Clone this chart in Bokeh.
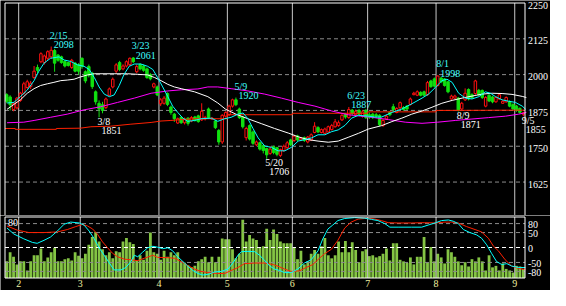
from bokeh.plotting import figure
from bokeh.models import Range1d, LabelSet, ColumnDataSource
from bokeh.layouts import column
from bokeh.embed import file_html
from bokeh.resources import INLINE

# ---------------- data ----------------
opens = [1930,1922,1878,1884,1910,1935,1955,1958,1990,2025,2045,2042,2057,2062,2084,2068,2062,2046,2042,2025,
         2040,2035,2057,2010,2028,2005,1940,1900,1895,1885,1928,1957,2012,2042,2020,2030,2035,2058,2010,2035,
         2030,2020,2000,1957,1957,1898,1900,1934,1887,1862,1831,1850,1832,1848,1838,1852,1856,1842,1845,1880,
         1845,1838,1805,1765,1855,1860,1890,1912,1880,1852,1780,1822,1800,1755,1762,1752,1742,1725,1748,1745,
         1718,1735,1745,1772,1770,1786,1772,1780,1765,1772,1798,1815,1798,1795,1800,1808,1818,1822,1842,1862,
         1850,1876,1860,1875,1855,1875,1860,1862,1860,1858,1822,1845,1868,1888,1868,1884,1885,1890,1896,1930,
         1928,1938,1940,1930,1978,1985,1962,1988,1985,1975,1915,1918,1918,1880,1912,1948,1930,1934,1945,1945,
         1890,1928,1922,1905,1915,1900,1905,1905,1895,1890,1882,1862]
closes = [1907,1895,1900,1918,1935,1968,1975,1970,2012,2015,2073,2065,2080,2085,2040,2050,2042,2030,2032,2050,
          2012,2012,2028,1978,1998,1958,1905,1880,1875,1915,1950,1984,2034,2018,2030,2045,2057,2045,2028,2020,
          2015,1990,1985,1968,1929,1912,1918,1896,1868,1846,1846,1832,1845,1830,1850,1840,1836,1872,1850,1850,
          1848,1815,1765,1858,1868,1890,1912,1895,1850,1818,1812,1775,1760,1765,1740,1735,1720,1740,1728,1722,
          1738,1750,1762,1755,1785,1772,1778,1770,1782,1790,1820,1800,1808,1810,1818,1822,1835,1832,1858,1852,
          1878,1864,1872,1862,1870,1850,1852,1850,1855,1825,1840,1855,1860,1878,1882,1902,1878,1880,1915,1935,
          1940,1928,1928,1972,1958,1960,1995,1975,1962,1940,1925,1925,1875,1900,1935,1915,1920,1978,1930,1920,
          1920,1908,1905,1920,1930,1907,1920,1890,1880,1875,1868,1866]
highs = [1935,1928,1905,1922,1940,1975,1982,1978,2030,2035,2078,2070,2085,2098,2090,2072,2066,2050,2045,2055,
         2044,2040,2060,2015,2035,2010,1945,1910,1905,1920,1955,1990,2040,2048,2036,2050,2060,2061,2035,2040,
         2035,2025,2005,1972,1962,1918,1925,1938,1892,1866,1850,1855,1850,1852,1855,1856,1860,1900,1856,1885,
         1852,1842,1810,1862,1872,1895,1916,1920,1885,1856,1818,1826,1805,1770,1766,1756,1745,1750,1752,1748,
         1742,1756,1768,1776,1790,1790,1782,1784,1786,1795,1834,1820,1812,1815,1822,1828,1845,1840,1865,1866,
         1887,1880,1878,1880,1876,1880,1868,1866,1866,1862,1845,1860,1872,1898,1886,1906,1890,1894,1920,1940,
         1945,1942,1944,1978,1982,1990,1998,1992,1988,1978,1930,1930,1922,1905,1952,1952,1935,1982,1950,1948,
         1925,1932,1926,1925,1935,1910,1924,1910,1900,1894,1886,1870]
lows = [1900,1875,1872,1878,1905,1930,1950,1950,1985,2005,2040,2035,2050,2055,2010,2045,2038,2025,2028,2020,
        2008,2000,2020,1970,1990,1950,1895,1851,1865,1880,1925,1952,2005,2012,2015,2025,2030,2040,2005,2015,
        2010,1985,1980,1952,1925,1890,1895,1890,1860,1835,1828,1828,1826,1822,1834,1836,1832,1838,1840,1845,
        1842,1810,1755,1758,1850,1855,1885,1890,1845,1812,1770,1770,1755,1750,1735,1725,1706,1720,1722,1715,
        1712,1730,1740,1750,1765,1768,1768,1765,1760,1768,1795,1796,1795,1792,1797,1805,1815,1818,1838,1846,
        1846,1858,1855,1858,1850,1845,1845,1845,1848,1820,1818,1842,1855,1872,1865,1880,1874,1876,1892,1928,
        1925,1924,1925,1926,1954,1955,1958,1970,1958,1935,1912,1914,1871,1876,1908,1910,1915,1930,1925,1915,
        1886,1904,1900,1902,1912,1898,1902,1886,1876,1870,1864,1855]
volumes = [23.6,36.5,30.1,19.3,23.6,23.6,10.7,23.6,32.2,32.2,41.7,23.6,29.2,36.5,43,23.6,23.6,26.7,27.9,24.9,
           36.5,31.4,27.9,34.4,47.3,58,65.4,51.6,40.8,32.2,36.5,27.9,37.8,36.5,51.6,56.8,50.7,48.2,24.9,32.2,
           25.8,38.7,64.5,36.5,34.4,25.8,38.7,30.1,36.5,32.2,36.5,23.6,21.5,18.1,15.1,17.2,23.6,26.7,30.1,22.4,
           30.1,22.4,30.1,55.9,55.1,55.1,40.8,27.9,34.4,82.6,51.6,61,55.9,53.8,43.9,45.1,69.7,53.8,68.8,62.3,
           51.6,49.4,49.4,49.4,43,26.7,38.7,19.3,23.6,34.4,39.6,34.4,45.1,56.8,32.2,27.9,32.2,51.6,36.5,52.5,
           36.5,50.7,39.6,22.4,37.8,40.8,31,32.2,29.2,31,34.4,41.7,24.9,49.4,49.4,25.8,23.6,21.5,29.2,19.3,
           30.1,30.1,58,21.5,43.9,23.6,34.4,29.2,20.6,40.8,36.5,30.1,23.6,18.1,22.4,16.3,26.7,23.6,29.2,23.6,
           10.7,32.2,15.1,17.2,10.7,20.6,12.9,10.7,7.7,17.2,16.3,12.9]

# moving averages: (candle index, price)
ma_short = [(0.1,1901),(2.1,1903),(4.0,1923),(6.0,1946),(8.0,1979),(9.4,2012),(10.9,2040),(12.8,2057),(15.3,2062),
            (16.8,2051),(18.7,2046),(20.7,2034),(22.6,2029),(24.1,2018),(25.6,1990),(27.0,1957),(28.5,1932),(30.0,1923),
            (31.4,1929),(32.9,1962),(34.3,2001),(35.8,2029),(37.3,2037),(39.2,2037),(41.2,2029),(42.7,2018),(44.1,1990),
            (45.6,1957),(47.1,1923),(48.5,1890),(50.0,1868),(51.5,1848),(52.9,1837),(54.9,1840),(56.8,1846),(59.8,1848),
            (61.7,1837),(63.7,1846),(65.6,1851),(67.6,1862),(69.1,1866),(70.5,1846),(72.0,1812),(73.5,1779),(75.4,1751),
            (77.4,1746),(79.3,1734),(81.3,1734),(83.2,1746),(85.2,1768),(87.1,1773),(89.1,1779),(91.0,1790),(93.0,1790),
            (95.0,1801),(96.9,1807),(98.9,1823),(100.8,1848),(102.8,1858),(105.7,1855),(107.5,1852),(109.6,1852),
            (112.6,1868),(115.5,1880),(118.4,1898),(121.4,1918),(123.3,1932),(125.3,1955),(127.2,1979),(128.7,1984),
            (130.2,1973),(132.1,1935),(134.1,1918),(136.0,1915),(138.0,1923),(139.9,1940),(141.4,1935),(142.9,1923),
            (144.8,1912),(146.8,1907),(148.7,1903),(150.7,1890),(151.7,1879)]
ma_mid = [(0.1,1879),(2.1,1896),(4.0,1912),(6.0,1935),(8.0,1951),(9.9,1962),(11.9,1968),(13.8,1973),(15.8,1979),
          (17.7,1981),(19.7,1984),(21.6,1992),(23.6,1999),(25.6,2003),(31.4,2003),(35.3,2003),(38.3,2001),(41.2,1999),
          (43.2,1990),(45.1,1979),(47.1,1966),(49.0,1957),(51.0,1951),(54.9,1940),(58.8,1923),(61.7,1901),(64.0,1879),
          (67.0,1862),(70.5,1846),(74.4,1829),(78.3,1812),(82.3,1796),(85.2,1783),(88.1,1773),(91.0,1768),(94.0,1764),
          (96.9,1768),(99.8,1781),(102.8,1795),(105.7,1810),(109.6,1822),(112.6,1836),(115.5,1848),(118.4,1862),
          (121.4,1873),(124.3,1886),(127.2,1900),(130.2,1910),(133.1,1918),(136.0,1925),(139.0,1932),(141.9,1935),
          (144.8,1934),(147.7,1931),(150.7,1924),(151.9,1920)]
ma_long = [(0.1,1832),(5.0,1834),(8.0,1840),(12.8,1851),(17.7,1862),(22.6,1877),(27.5,1888),(32.4,1903),(37.3,1918),
           (42.2,1935),(47.1,1943),(51.0,1947),(55.9,1950),(58.8,1957),(61.7,1957),(65.6,1951),(70.5,1943),(75.4,1932),
           (80.3,1918),(85.2,1903),(90.1,1890),(95.0,1873),(99.8,1860),(103.5,1855),(106.7,1851),(111.6,1843),
           (116.5,1834),(121.4,1830),(126.0,1834),(131.1,1840),(136.0,1845),(140.9,1850),(145.8,1855),(149.7,1862),
           (151.9,1868)]
ma_trend = [(-0.5,1812),(2.5,1812),(2.5,1809),(14.5,1809),(14.5,1812),(21.5,1813),(24.6,1818),(30.4,1820),
            (36.3,1827),(42.2,1833),(45.1,1838),(48.0,1840),(51.0,1843),(55.0,1846),(64.5,1846),(64.5,1860),
            (83.5,1860),(83.5,1865),(105.5,1865),(105.5,1870),(125.5,1870),(125.5,1875),(151.5,1876)]

# oscillators in the lower pane: (candle index, value)
osc_fast = [(0.1,65),(2.1,45),(5.0,29),(7.5,17),(8.9,14),(10.9,24),(12.8,35),(14.8,55),(16.8,78),(18.7,85),(21.2,82),
            (22.6,75),(24.1,55),(25.6,29),(27.0,-1),(28.5,-26),(30.0,-52),(31.4,-75),(33.4,-75),(34.8,-67),(36.3,-47),
            (37.3,-26),(38.3,-31),(39.7,-16),(41.2,-1),(42.7,4),(44.1,1),(45.6,-4),(47.1,-1),(48.5,-11),(50.0,-31),
            (51.5,-47),(52.9,-62),(54.4,-77),(55.9,-87),(57.3,-92),(58.8,-90),(60.7,-82),(62.7,-80),(64.7,-72),
            (66.1,-52),(67.6,-26),(68.6,-14),(70.5,-13),(72.5,-14),(73.9,-26),(75.4,-43),(76.9,-62),(78.3,-72),
            (79.8,-77),(81.2,-84),(83.1,-84),(85.1,-72),(87.0,-52),(89.0,-41),(91.0,-11),(92.4,29),(93.9,62),(95.3,75),
            (96.8,90),(98.8,97),(101.7,100),(104.6,98),(106.6,94),(108.5,90),(110.5,80),(112.0,68),(114.4,68),
            (118.3,68),(121.3,68),(123.2,75),(125.2,82),(127.1,90),(129.1,92),(130.5,88),(132.0,80),(133.5,60),
            (135.4,50),(137.4,42),(138.8,31),(140.3,9),(141.8,-21),(143.2,-47),(144.7,-57),(146.2,-54),(147.6,-62),
            (149.6,-67),(151.6,-67)]
osc_slow = [(0.1,72),(3.1,58),(6.5,50),(10.9,50),(14.8,52),(17.7,60),(20.2,70),(22.1,77),(23.6,72),(25.1,62),
            (26.5,45),(28.0,19),(29.5,-1),(30.9,-19),(32.4,-31),(34.4,-39),(36.3,-41),(38.3,-44),(40.2,-36),(42.7,-26),
            (44.1,-33),(47.1,-34),(49.0,-36),(51.0,-47),(52.9,-60),(54.9,-72),(56.8,-80),(58.8,-84),(61.7,-87),
            (63.7,-87),(65.6,-77),(67.6,-67),(69.5,-54),(72.5,-52),(75.4,-52),(77.9,-57),(79.8,-65),(81.2,-72),
            (83.1,-80),(85.6,-78),(87.5,-67),(89.5,-57),(91.4,-36),(92.9,-21),(94.9,-6),(96.8,24),(98.8,65),
            (100.7,85),(102.7,95),(105.6,98),(107.6,95),(109.5,90),(111.5,83),(114.4,82),(118.3,82),(122.2,83),
            (125.2,82),(128.1,85),(130.0,85),(132.0,82),(134.4,70),(136.9,60),(138.8,52),(140.8,31),(142.3,4),
            (143.7,-11),(145.7,-41),(147.6,-62),(149.6,-70),(151.6,-74)]

ann_idx = [13, 27, 37, 67, 76, 100, 126, 132, 151]
ann_date = ["2/15", "3/8", "3/23", "5/9", "5/20", "6/23", "8/1", "8/9", "9/5"]
ann_value = [2098, 1851, 2061, 1920, 1706, 1887, 1998, 1871, 1855]
ann_kind = ["high", "low", "high", "high", "low", "high", "high", "low", "low"]

month_labels = ["2", "3", "4", "5", "6", "7", "8", "9"]
month_start = [4, 22, 45, 65, 84, 106, 126, 149]
price_ticks = [1625, 1750, 1875, 2000, 2125, 2250]
price_min = 1503
osc_ticks = [80, 50, 0, -50, -80]
osc_lim = 102
vol_max = 86.5
vol_label = 80

# ---------------- layout / styling ----------------
FONT = "DejaVu Sans Mono"
FS = "10px"
UP = "#ff1010"
DOWN = "#10e010"
CYAN = "#00ffff"
GRID = "#8c8c8c"
VLINE = "#c8c8c8"
W = 550
H1, H2 = 215, 75
N = len(opens)
xs = list(range(N))
x_lo, x_hi = -0.5, N - 0.5          # candle area in data units
month_line = [m - 0.5 for m in month_start]
price_max = max(price_ticks)


def rng(v_a, px_a, v_b, px_b, size):
    """Range whose value v_a sits at pixel px_a and v_b at px_b (pixels from top/left)."""
    k = (v_b - v_a) / (px_b - px_a)
    return v_a + (0 - px_a) * k, v_a + (size - px_a) * k


xa, xb = rng(x_lo, 4.5, x_hi, 524.5, W)
xr = Range1d(xa, xb)

# ----- main pane -----
ya, yb = rng(price_max, 2.5, price_min, 216.5, H1)
p = figure(width=W, height=H1, x_range=xr, y_range=Range1d(yb, ya),
           x_axis_location=None, y_axis_location=None,
           output_backend="svg", toolbar_location=None,
           min_border=0, background_fill_color="black", border_fill_color="black",
           outline_line_color=None)
p.xgrid.visible = False
p.ygrid.visible = False

inner = [t for t in price_ticks if t != price_max]
p.segment(x0=[x_lo] * len(inner), x1=[x_hi] * len(inner), y0=inner, y1=inner,
          line_color=GRID, line_dash="4 3", line_width=1)
p.segment(x0=month_line, x1=month_line, y0=[price_min] * len(month_line),
          y1=[price_max] * len(month_line), line_color=VLINE, line_width=1)

up = [c >= o for o, c in zip(opens, closes)]
src = ColumnDataSource(dict(
    x=xs, o=opens, c=closes, h=highs, l=lows,
    top=[max(o, c) for o, c in zip(opens, closes)],
    bottom=[min(o, c) for o, c in zip(opens, closes)],
    color=[UP if u else DOWN for u in up],
    fill=["black" if u else DOWN for u in up],
))
p.segment(x0="x", y0="l", x1="x", y1="h", line_color="color", line_width=1, source=src)
p.vbar(x="x", width=0.72, top="top", bottom="bottom", fill_color="fill",
       line_color="color", line_width=1, source=src)

p.line([a for a, b in ma_trend], [b for a, b in ma_trend], line_color="#ff2000", line_width=1)
p.line([a for a, b in ma_long], [b for a, b in ma_long], line_color="#ff00ff", line_width=1)
p.line([a for a, b in ma_mid], [b for a, b in ma_mid], line_color="#ffffff", line_width=1)
p.line([a for a, b in ma_short], [b for a, b in ma_short], line_color=CYAN, line_width=1)

# frame of the main pane
p.segment(x0=[x_lo, x_hi, x_lo], x1=[x_lo, x_hi, x_hi],
          y0=[price_min, price_min, price_max], y1=[price_max, price_max, price_max],
          line_color="white", line_width=1)

asrc = ColumnDataSource(dict(
    x=ann_idx, y=ann_value, date=ann_date, price=[str(v) for v in ann_value],
    color=["#40ffff" if k == "high" else "white" for k in ann_kind],
    dy_date=[8 if k == "high" else -7.5 for k in ann_kind],
    dy_price=[-1.5 if k == "high" else -16.5 for k in ann_kind],
))
p.add_layout(LabelSet(x="x", y="y", text="date", source=asrc, x_offset=-1.5, y_offset="dy_date",
                      text_color="color", text_font=FONT, text_font_size=FS,
                      text_baseline="alphabetic", text_align="left"))
p.add_layout(LabelSet(x="x", y="y", text="price", source=asrc, x_offset=2.5, y_offset="dy_price",
                      text_color="color", text_font=FONT, text_font_size=FS,
                      text_baseline="alphabetic", text_align="left"))

psrc = ColumnDataSource(dict(x=[x_hi] * len(price_ticks), y=price_ticks,
                             t=[str(v) for v in price_ticks]))
p.add_layout(LabelSet(x="x", y="y", text="t", source=psrc, x_offset=3, y_offset=-2,
                      text_color="white", text_font=FONT, text_font_size=FS,
                      text_baseline="middle", text_align="left"))

# ----- lower pane -----
qa, qb = rng(osc_lim, 1.5, -osc_lim, 62.5, H2)
va, vb = rng(vol_max, 1.5, 0, 62.5, H2)
q = figure(width=W, height=H2, x_range=xr, y_range=Range1d(qb, qa),
           x_axis_location=None, y_axis_location=None,
           output_backend="svg", toolbar_location=None,
           min_border=0, background_fill_color="black", border_fill_color="black",
           outline_line_color=None)
q.xgrid.visible = False
q.ygrid.visible = False
q.extra_y_ranges = {"vol": Range1d(vb, va)}

q.vbar(x=xs, top=volumes, bottom=0, width=0.82, fill_color="#84c444", line_color=None,
       y_range_name="vol")

q.segment(x0=[x_lo] * len(osc_ticks), x1=[x_hi] * len(osc_ticks), y0=osc_ticks, y1=osc_ticks,
          line_color=["white" if t == 0 else GRID for t in osc_ticks], line_dash="4 3", line_width=1)
q.segment(x0=month_line, x1=month_line, y0=[-osc_lim] * len(month_line),
          y1=[osc_lim] * len(month_line), line_color=VLINE, line_width=1)

q.line([a for a, b in osc_slow], [b for a, b in osc_slow], line_color="#ff2000", line_width=1)
q.line([a for a, b in osc_fast], [b for a, b in osc_fast], line_color=CYAN, line_width=1)

q.segment(x0=[x_lo, x_hi, x_lo, x_lo], x1=[x_lo, x_hi, x_hi, x_hi],
          y0=[-osc_lim, -osc_lim, osc_lim, -osc_lim], y1=[osc_lim, osc_lim, osc_lim, -osc_lim],
          line_color="white", line_width=1)

q.add_layout(LabelSet(x="x", y="y", text="t", y_range_name="vol",
                      source=ColumnDataSource(dict(x=[x_lo], y=[vol_label], t=[str(vol_label)])),
                      x_offset=3, y_offset=-1, text_color="white", text_font=FONT, text_font_size=FS,
                      text_baseline="middle", text_align="left"))

osrc = ColumnDataSource(dict(x=[x_hi] * len(osc_ticks), y=osc_ticks, t=[str(v) for v in osc_ticks]))
q.add_layout(LabelSet(x="x", y="y", text="t", source=osrc, x_offset=3, y_offset=-1,
                      text_color="white", text_font=FONT, text_font_size=FS,
                      text_baseline="middle", text_align="left"))

msrc = ColumnDataSource(dict(x=month_line, y=[-osc_lim] * len(month_line), t=month_labels))
q.add_layout(LabelSet(x="x", y="y", text="t", source=msrc, y_offset=-2,
                      text_color="#f0f0a0", text_font=FONT, text_font_size=FS,
                      text_baseline="top", text_align="center"))

layout = column(p, q, spacing=0)

open("out.html", "w").write(file_html(layout, INLINE))
